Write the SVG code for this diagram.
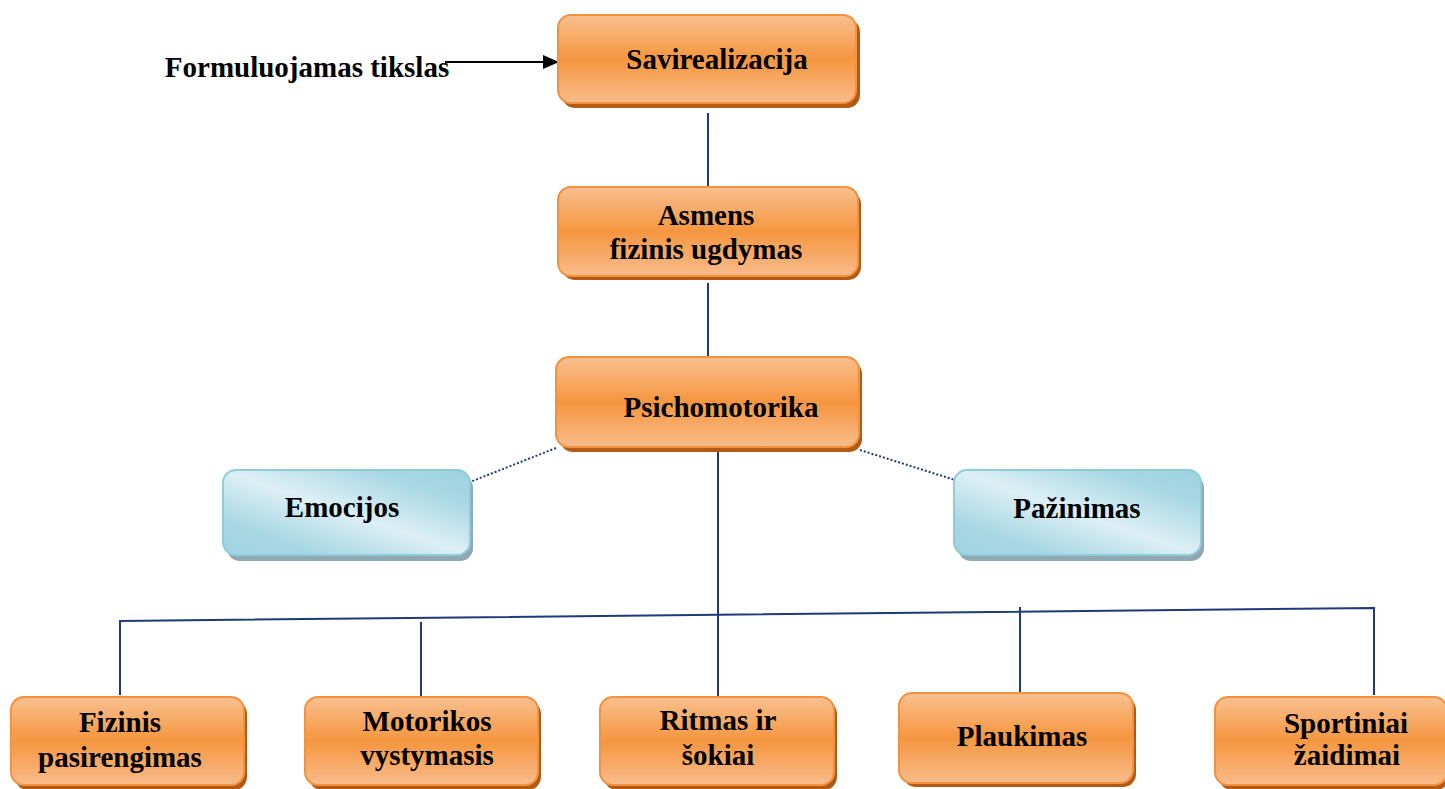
<svg xmlns="http://www.w3.org/2000/svg" width="1445" height="789" viewBox="0 0 1445 789">
<defs>
<linearGradient id="og" x1="0" y1="0" x2="0" y2="1">
<stop offset="0" stop-color="#F9C090"/>
<stop offset="0.5" stop-color="#F5963F"/>
<stop offset="1" stop-color="#F9BC8C"/>
</linearGradient>
<linearGradient id="bg" x1="0" y1="1" x2="1" y2="0">
<stop offset="0" stop-color="#A0D3E1"/>
<stop offset="0.2" stop-color="#A8D7E4"/>
<stop offset="0.5" stop-color="#DDEFF5"/>
<stop offset="0.8" stop-color="#A8D7E4"/>
<stop offset="1" stop-color="#9ED2E0"/>
</linearGradient>
<marker id="ah" markerWidth="16" markerHeight="14" refX="15" refY="7" orient="auto" markerUnits="userSpaceOnUse">
<path d="M0,0 L16,7 L0,14 Z" fill="#000"/>
</marker>
</defs>
<style>
.ob{fill:url(#og);stroke:#F3913F;stroke-width:2}
.os{fill:#B35A14}
.bb{fill:url(#bg);stroke:#8FCCDB;stroke-width:2}
.bs{fill:#8FA8B2}
text{font-family:"Liberation Serif","Times New Roman",serif;font-weight:bold;font-size:29px;fill:#000;text-anchor:middle}
.c{fill:none;stroke:#1F3A7A;stroke-width:2}
.d{fill:none;stroke:#1F3A7A;stroke-width:2;stroke-dasharray:2 2}
</style>
<g id="connectors">
<line class="c" x1="708" y1="113" x2="708" y2="187"/>
<line class="c" x1="708" y1="283" x2="708" y2="356"/>
<line class="c" x1="718" y1="449" x2="718" y2="697"/>
<line class="d" x1="556" y1="448" x2="470" y2="482"/>
<line class="d" x1="860" y1="450" x2="955" y2="480"/>
<polyline class="c" points="120,695 120,621 1374,608 1374,695"/>
<line class="c" x1="421" y1="622" x2="421" y2="697"/>
<line class="c" x1="1020" y1="607" x2="1020" y2="692"/>
<line x1="445" y1="62" x2="558" y2="62" stroke="#000" stroke-width="2" marker-end="url(#ah)"/>
</g>
<g id="label-formuluojamas">
<text x="307" y="77">Formuluojamas tikslas</text>
</g>
<g id="savirealizacija">
<rect class="os" x="562" y="19" width="298" height="89" rx="13"/>
<rect class="ob" x="558" y="15" width="298" height="88" rx="13"/>
<text x="717" y="69">Savirealizacija</text>
</g>
<g id="asmens">
<rect class="os" x="562" y="191" width="299" height="89" rx="13"/>
<rect class="ob" x="558" y="187" width="300" height="89" rx="13"/>
<text x="706" y="225">Asmens</text>
<text x="706" y="259">fizinis ugdymas</text>
</g>
<g id="psichomotorika">
<rect class="os" x="560" y="361" width="302" height="91" rx="13"/>
<rect class="ob" x="556" y="357" width="303" height="90" rx="13"/>
<text x="721" y="417">Psichomotorika</text>
</g>
<g id="emocijos">
<rect class="bs" x="227" y="475" width="246" height="86" rx="13"/>
<rect class="bb" x="223" y="470" width="247" height="85" rx="13"/>
<text x="342" y="517">Emocijos</text>
</g>
<g id="pazinimas">
<rect class="bs" x="958" y="475" width="246" height="86" rx="13"/>
<rect class="bb" x="954" y="470" width="247" height="85" rx="13"/>
<text x="1077" y="518">Pažinimas</text>
</g>
<g id="fizinis">
<rect class="os" x="15" y="701" width="232" height="89" rx="13"/>
<rect class="ob" x="11" y="697" width="233" height="88" rx="13"/>
<text x="120" y="732">Fizinis</text>
<text x="120" y="767">pasirengimas</text>
</g>
<g id="motorikos">
<rect class="os" x="309" y="701" width="232" height="89" rx="13"/>
<rect class="ob" x="305" y="697" width="233" height="88" rx="13"/>
<text x="427" y="731">Motorikos</text>
<text x="427" y="765">vystymasis</text>
</g>
<g id="ritmas">
<rect class="os" x="604" y="701" width="233" height="89" rx="13"/>
<rect class="ob" x="600" y="697" width="234" height="88" rx="13"/>
<text x="718" y="730">Ritmas ir</text>
<text x="718" y="765">šokiai</text>
</g>
<g id="plaukimas">
<rect class="os" x="903" y="697" width="233" height="90" rx="13"/>
<rect class="ob" x="899" y="693" width="234" height="90" rx="13"/>
<text x="1022" y="746">Plaukimas</text>
</g>
<g id="sportiniai">
<rect class="os" x="1219" y="701" width="230" height="89" rx="13"/>
<rect class="ob" x="1215" y="697" width="232" height="88" rx="13"/>
<text x="1346" y="733">Sportiniai</text>
<text x="1347" y="765">žaidimai</text>
</g>
</svg>
